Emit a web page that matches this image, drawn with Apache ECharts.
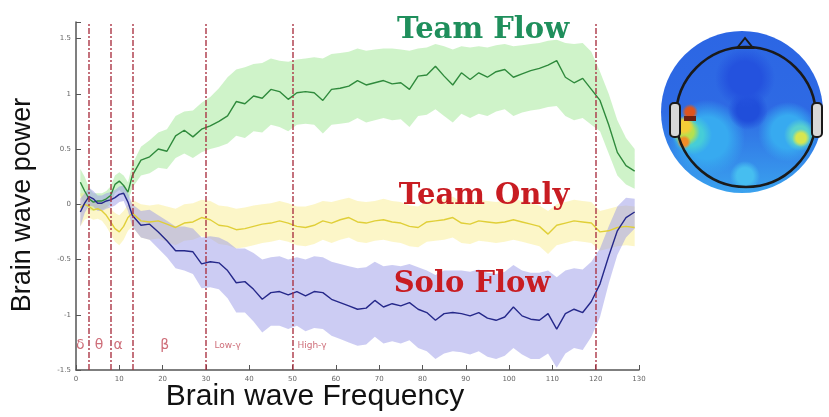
<!DOCTYPE html>
<html>
<head>
<meta charset="utf-8">
<style>html,body{margin:0;padding:0;background:#fff;}#c{width:829px;height:417px;}</style>
<script src="https://cdn.jsdelivr.net/npm/echarts@6/dist/echarts.min.js"></script>
</head>
<body>
<div id="c"></div>
<script>
// Frequency grid (Hz)
const freq = [1,2,3,4,5,6,7,8,9,10,11,12,13,
  15,17,19,21,23,25,27,29,31,33,35,37,39,41,43,45,47,49,51,
  53,55,57,59,61,63,65,67,69,71,73,75,77,79,81,83,85,87,89,
  91,93,95,97,99,101,103,105,107,109,111,113,115,117,119,121,123,125,127,129];

const teamFlowMean = [0.20,0.12,0.05,0.02,0.03,0.03,0.05,0.08,0.18,0.21,0.17,0.11,0.26,
  0.40,0.43,0.50,0.48,0.62,0.67,0.61,0.68,0.71,0.75,0.80,0.93,0.91,0.98,0.96,1.04,1.02,0.95,1.01,
  1.02,1.01,0.94,1.04,1.05,1.07,1.12,1.08,1.10,1.12,1.09,1.10,1.04,1.16,1.17,1.25,1.16,1.08,1.19,
  1.13,1.19,1.15,1.20,1.22,1.15,1.18,1.21,1.23,1.26,1.30,1.15,1.10,1.14,1.04,0.94,0.72,0.47,0.35,0.30];
const teamFlowUpper = [0.32,0.25,0.15,0.10,0.10,0.10,0.12,0.16,0.26,0.29,0.26,0.20,0.36,
  0.52,0.58,0.65,0.68,0.80,0.84,0.85,0.92,0.97,1.05,1.15,1.22,1.24,1.27,1.28,1.32,1.30,1.29,1.31,
  1.32,1.33,1.32,1.36,1.37,1.38,1.41,1.39,1.40,1.41,1.41,1.40,1.39,1.41,1.42,1.45,1.43,1.40,1.43,
  1.42,1.43,1.42,1.44,1.45,1.43,1.44,1.45,1.46,1.48,1.49,1.46,1.45,1.46,1.38,1.20,1.00,0.76,0.60,0.50];
const teamFlowLower = [0.08,0.00,-0.05,-0.06,-0.05,-0.05,-0.03,0.00,0.10,0.13,0.08,0.02,0.15,
  0.26,0.28,0.33,0.32,0.42,0.46,0.42,0.47,0.50,0.52,0.55,0.62,0.60,0.66,0.65,0.72,0.70,0.66,0.72,
  0.73,0.72,0.64,0.72,0.73,0.74,0.78,0.74,0.76,0.78,0.76,0.77,0.70,0.80,0.81,0.86,0.80,0.74,0.82,
  0.78,0.82,0.80,0.84,0.86,0.80,0.83,0.85,0.86,0.88,0.89,0.80,0.76,0.78,0.72,0.66,0.46,0.26,0.18,0.14];

const teamOnlyMean = [-0.03,0.00,-0.02,-0.05,-0.04,-0.06,-0.10,-0.16,-0.22,-0.25,-0.20,-0.12,-0.08,
  -0.15,-0.16,-0.15,-0.18,-0.21,-0.17,-0.16,-0.12,-0.14,-0.19,-0.20,-0.23,-0.22,-0.20,-0.18,-0.17,-0.15,-0.17,-0.20,
  -0.21,-0.19,-0.15,-0.17,-0.14,-0.12,-0.16,-0.17,-0.15,-0.14,-0.16,-0.17,-0.20,-0.21,-0.16,-0.15,-0.14,-0.12,-0.17,
  -0.18,-0.15,-0.16,-0.17,-0.16,-0.14,-0.16,-0.18,-0.20,-0.27,-0.19,-0.17,-0.15,-0.16,-0.17,-0.25,-0.24,-0.21,-0.20,-0.21];
const teamOnlyUpper = [0.10,0.10,0.06,0.03,0.03,0.02,0.00,-0.04,-0.08,-0.10,-0.06,0.00,0.04,
  0.00,-0.01,0.00,-0.02,-0.04,0.00,0.01,0.04,0.03,-0.01,-0.02,-0.04,-0.03,-0.01,0.00,0.01,0.03,0.01,-0.02,
  -0.02,0.00,0.03,0.02,0.04,0.06,0.03,0.02,0.03,0.05,0.03,0.02,-0.01,-0.02,0.03,0.04,0.05,0.07,0.02,
  0.01,0.04,0.03,0.02,0.03,0.05,0.03,0.01,-0.01,-0.06,0.00,0.02,0.04,0.03,0.02,-0.06,-0.04,-0.02,-0.01,-0.02];
const teamOnlyLower = [-0.20,-0.14,-0.12,-0.14,-0.13,-0.15,-0.20,-0.27,-0.34,-0.37,-0.32,-0.24,-0.20,
  -0.30,-0.32,-0.31,-0.34,-0.37,-0.33,-0.32,-0.29,-0.31,-0.36,-0.37,-0.40,-0.39,-0.37,-0.35,-0.34,-0.32,-0.34,-0.37,
  -0.38,-0.36,-0.32,-0.35,-0.32,-0.30,-0.34,-0.35,-0.33,-0.32,-0.34,-0.35,-0.38,-0.39,-0.34,-0.33,-0.32,-0.30,-0.35,
  -0.36,-0.33,-0.34,-0.35,-0.34,-0.32,-0.34,-0.36,-0.38,-0.45,-0.37,-0.35,-0.33,-0.34,-0.35,-0.42,-0.40,-0.38,-0.37,-0.38];

const soloFlowMean = [-0.07,0.01,0.07,0.05,0.01,0.01,0.03,0.04,0.06,0.09,0.10,0.02,-0.10,
  -0.19,-0.18,-0.25,-0.33,-0.42,-0.42,-0.43,-0.54,-0.52,-0.53,-0.60,-0.71,-0.70,-0.77,-0.86,-0.80,-0.79,-0.82,-0.79,
  -0.83,-0.79,-0.80,-0.86,-0.89,-0.92,-0.95,-0.94,-0.87,-0.93,-0.90,-0.92,-0.89,-0.95,-0.98,-1.05,-0.99,-0.98,-0.99,
  -1.01,-0.98,-1.03,-1.05,-1.02,-0.93,-1.01,-1.04,-1.05,-0.99,-1.13,-0.99,-0.95,-0.98,-0.88,-0.72,-0.47,-0.24,-0.12,-0.07];
const soloFlowUpper = [0.05,0.10,0.15,0.12,0.08,0.08,0.10,0.11,0.13,0.16,0.17,0.10,0.00,
  -0.06,-0.05,-0.10,-0.15,-0.20,-0.20,-0.22,-0.30,-0.29,-0.30,-0.34,-0.40,-0.40,-0.44,-0.50,-0.48,-0.47,-0.50,-0.48,
  -0.50,-0.47,-0.48,-0.52,-0.54,-0.56,-0.58,-0.57,-0.52,-0.56,-0.55,-0.56,-0.54,-0.57,-0.60,-0.64,-0.60,-0.60,-0.60,
  -0.61,-0.59,-0.62,-0.63,-0.61,-0.55,-0.60,-0.62,-0.62,-0.60,-0.66,-0.60,-0.58,-0.59,-0.52,-0.40,-0.20,-0.02,0.06,0.05];
const soloFlowLower = [-0.20,-0.08,-0.01,-0.02,-0.06,-0.06,-0.04,-0.03,-0.01,0.02,0.03,-0.06,-0.20,
  -0.30,-0.32,-0.40,-0.48,-0.58,-0.60,-0.63,-0.76,-0.75,-0.77,-0.85,-0.98,-0.98,-1.06,-1.16,-1.10,-1.10,-1.13,-1.10,
  -1.15,-1.12,-1.13,-1.19,-1.22,-1.25,-1.28,-1.27,-1.20,-1.26,-1.24,-1.26,-1.23,-1.30,-1.33,-1.40,-1.35,-1.33,-1.34,
  -1.36,-1.33,-1.38,-1.40,-1.37,-1.30,-1.36,-1.40,-1.40,-1.35,-1.48,-1.35,-1.30,-1.32,-1.20,-1.02,-0.72,-0.46,-0.30,-0.22];

// Band boundaries (Hz) and band names
const bandEdges = [3, 8, 13, 30, 50, 120];
const bandNames = ['δ', 'θ', 'α', 'β', 'Low-γ', 'High-γ'];
const bandCenters = [1, 5.3, 9.7, 20.5, 35, 54.5];

const xTicks = [0,10,20,30,40,50,60,70,80,90,100,110,120,130];
const yTicks = [-1.5,-1,-0.5,0,0.5,1,1.5];

function pairs(ys){ return freq.map((f,i)=>[f, ys[i]]); }

function bandSeries(upper, lower, color, op){
  return {
    type: 'custom', z: 1, silent: true,
    data: [[freq[0], upper[0]]],
    renderItem: function(params, api){
      const pts = [];
      for (let i=0;i<freq.length;i++) pts.push(api.coord([freq[i], upper[i]]));
      for (let i=freq.length-1;i>=0;i--) pts.push(api.coord([freq[i], lower[i]]));
      return {type:'polygon', shape:{points: pts}, style:{fill: color, opacity: op}};
    }
  };
}

function lineSeries(ys, color, extra){
  return Object.assign({
    type: 'line', z: 3, data: pairs(ys), showSymbol: false, silent: true,
    lineStyle: {color: color, width: 1.4}, itemStyle:{color: color}, animation: false
  }, extra || {});
}

const chart = echarts.init(document.getElementById('c'), null, {renderer: 'canvas'});

function blob(cx, cy, rx, ry, color){
  return {type:'ellipse', shape:{cx:cx, cy:cy, rx:rx, ry:ry}, silent:true,
    style:{fill: new echarts.graphic.RadialGradient(0.5,0.5,0.5,[
      {offset:0,color:color},{offset:0.55,color:color},{offset:1,color:color.replace('1)','0)')}])}};
}

const headMap = {
  type:'group', silent:true, z: 50,
  children: [
    {type:'circle', shape:{cx:742, cy:112, r:81}, style:{fill: new echarts.graphic.LinearGradient(0,0,0,1,[
      {offset:0,color:'#2c66e4'},{offset:0.5,color:'#2e6ae4'},{offset:1,color:'#3aa2ee'}])}},
    blob(707,138,38,42,'rgba(55,170,240,1)'),
    blob(788,132,30,40,'rgba(55,170,240,1)'),
    blob(745,176,48,15,'rgba(70,190,240,1)'),
    blob(748,110,20,62,'rgba(32,78,218,1)'),
    blob(745,78,48,30,'rgba(36,82,222,1)'),
    blob(692,135,20,42,'rgba(70,205,215,1)'),
    blob(800,135,16,34,'rgba(90,210,205,1)'),
    blob(686,132,14,34,'rgba(180,225,80,1)'),
    blob(801,138,9,20,'rgba(215,230,80,1)'),
    blob(684,126,10,26,'rgba(245,205,55,1)'),
    blob(684,142,7,14,'rgba(240,140,40,1)'),
    blob(690,112,8,9,'rgba(222,85,30,1)'),
    {type:'rect', shape:{x:684,y:116,width:12,height:5}, style:{fill:'#6a1f10'}},
    {type:'circle', shape:{cx:746, cy:117, r:70}, style:{fill:'none', stroke:'#1a1a1a', lineWidth:2.5}},
    {type:'polygon', shape:{points:[[737,48],[745,38],[753,48]]}, style:{fill:'none', stroke:'#1a1a1a', lineWidth:2}},
    {type:'rect', shape:{x:670,y:103,width:10,height:34,r:4}, style:{fill:'#d8d8d8', stroke:'#1a1a1a', lineWidth:2}},
    {type:'rect', shape:{x:812,y:103,width:10,height:34,r:4}, style:{fill:'#d8d8d8', stroke:'#1a1a1a', lineWidth:2}}
  ]
};

const option = {
  animation: false,
  backgroundColor: '#ffffff',
  grid: {left: 76, right: 190, top: 22, bottom: 47},
  xAxis: {
    type: 'value', min: 0, max: 130, interval: 10,
    axisLine: {show: true, onZero: false, lineStyle: {color: '#555', width: 1.5}},
    axisTick: {inside: true, length: 5, lineStyle: {color: '#555'}},
    axisLabel: {fontSize: 7, color: '#666', margin: 6, fontFamily: 'DejaVu Sans',
      formatter: v => xTicks.indexOf(v) >= 0 ? String(v) : ''},
    splitLine: {show: false}
  },
  yAxis: {
    type: 'value', min: -1.5, max: 1.65, interval: 0.5,
    axisLine: {show: true, onZero: false, lineStyle: {color: '#555', width: 1.5}},
    axisTick: {inside: true, length: 5, lineStyle: {color: '#555'}},
    axisLabel: {fontSize: 7, color: '#666', margin: 5, fontFamily: 'DejaVu Sans',
      formatter: v => { const t = yTicks.find(k => Math.abs(k - v) < 1e-6); return t === undefined ? '' : String(t); }},
    splitLine: {show: false}
  },
  series: [
    bandSeries(teamFlowUpper, teamFlowLower, '#9fe894', 0.5),
    bandSeries(teamOnlyUpper, teamOnlyLower, '#f8ea7c', 0.42),
    bandSeries(soloFlowUpper, soloFlowLower, '#9a9ae8', 0.5),
    lineSeries(teamFlowMean, '#2f8a3c', {
      markLine: {silent: true, symbol: ['none','none'], label: {show: false},
        lineStyle: {color: '#a83040', type: [6,2,2,2], width: 1.6, opacity: 0.85},
        data: bandEdges.map(v => ({xAxis: v}))}
    }),
    lineSeries(teamOnlyMean, '#e0cf38'),
    lineSeries(soloFlowMean, '#25288a'),
    {
      type: 'scatter', z: 4, silent: true, symbolSize: 0,
      data: bandCenters.map((x, i) => ({
        value: [x, -1.28],
        label: {show: true, formatter: bandNames[i], position: 'inside',
          fontSize: bandNames[i].length > 1 ? 9 : 14, color: '#c24a58', fontFamily: 'DejaVu Sans'}
      }))
    }
  ],
  graphic: [
    {type:'text', x:483, y:30, z:100, silent:true, style:{text:'Team Flow', font:'bold 29px "DejaVu Serif"', fill:'#1f8f5c', textAlign:'center', textVerticalAlign:'middle'}},
    {type:'text', x:484, y:196, z:100, silent:true, style:{text:'Team Only', font:'bold 29px "DejaVu Serif"', fill:'#c81c22', textAlign:'center', textVerticalAlign:'middle'}},
    {type:'text', x:472, y:284, z:100, silent:true, style:{text:'Solo Flow', font:'bold 29px "DejaVu Serif"', fill:'#c81c22', textAlign:'center', textVerticalAlign:'middle'}},
    {type:'text', x:23, y:205, z:100, rotation: Math.PI/2, silent:true, style:{text:'Brain wave power', font:'27px "Liberation Sans"', fill:'#111', textAlign:'center', textVerticalAlign:'middle'}},
    {type:'text', x:315, y:397, z:100, silent:true, style:{text:'Brain wave Frequency', font:'30px "Liberation Sans"', fill:'#111', textAlign:'center', textVerticalAlign:'middle'}},
    headMap
  ]
};
chart.setOption(option);
</script>
</body>
</html>
